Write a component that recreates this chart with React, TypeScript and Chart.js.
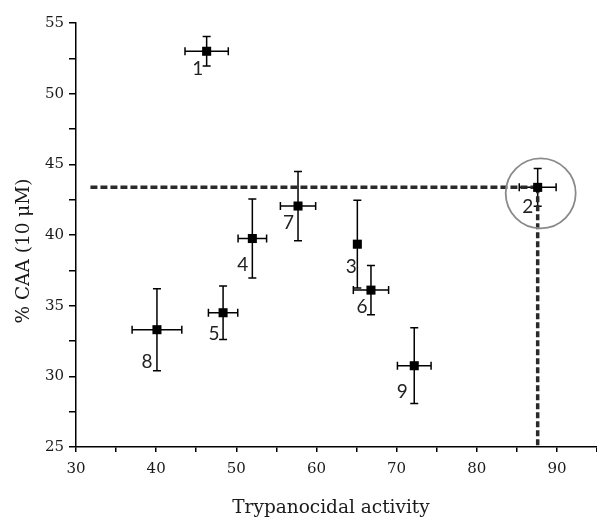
import React, { useEffect, useRef } from "react";
import { Chart, registerables } from "chart.js";

Chart.register(...registerables);

// ---- data ----
const compoundLabels = ["1", "2", "3", "4", "5", "6", "7", "8", "9"];
const trypanocidal = [46.3, 87.6, 65.1, 52.0, 48.35, 66.8, 57.7, 40.1, 72.2];
const trypanocidalErr = [2.7, 2.3, 0.3, 1.78, 1.83, 2.2, 2.2, 3.1, 2.1];
const caa = [53.0, 43.37, 39.35, 39.75, 34.5, 36.1, 42.05, 33.3, 30.75];
const caaErr = [1.05, 1.33, 3.1, 2.8, 1.9, 1.75, 2.45, 2.9, 2.68];
const highlightIndex = 1; // compound 2 (circled)
const guideStartX = 31.8;
const xTickLabels = ["30", "40", "50", "60", "70", "80", "90"];
const yTickLabels = ["25", "30", "35", "40", "45", "50", "55"];
const xTitle = "Trypanocidal activity";
const yTitle = "% CAA (10 μM)";

// label offsets in px relative to each point (layout only)
const labelOffsets: [number, number][] = [
  [-9, 18], [-10, 20], [-6, 23], [-9.5, 26], [-9, 21], [-9, 17], [-9.5, 17], [-10, 32], [-12, 26],
];

const TITLE_FONT = "18.5px 'DejaVu Serif', serif";

const overlayPlugin = {
  id: "overlay",
  beforeDatasetsDraw(chart: any) {
    const { ctx, scales } = chart;
    const xs = scales.x;
    const ys = scales.y;
    ctx.save();
    ctx.strokeStyle = "#000";
    ctx.lineWidth = 1.5;
    const cap = 4;
    for (let i = 0; i < trypanocidal.length; i++) {
      const px = xs.getPixelForValue(trypanocidal[i]);
      const py = ys.getPixelForValue(caa[i]);
      const xl = xs.getPixelForValue(trypanocidal[i] - trypanocidalErr[i]);
      const xr = xs.getPixelForValue(trypanocidal[i] + trypanocidalErr[i]);
      const yt = ys.getPixelForValue(caa[i] + caaErr[i]);
      const yb = ys.getPixelForValue(caa[i] - caaErr[i]);
      ctx.beginPath();
      ctx.moveTo(xl, py);
      ctx.lineTo(xr, py);
      ctx.moveTo(xl, py - cap);
      ctx.lineTo(xl, py + cap);
      ctx.moveTo(xr, py - cap);
      ctx.lineTo(xr, py + cap);
      ctx.moveTo(px, yt);
      ctx.lineTo(px, yb);
      ctx.moveTo(px - cap, yt);
      ctx.lineTo(px + cap, yt);
      ctx.moveTo(px - cap, yb);
      ctx.lineTo(px + cap, yb);
      ctx.stroke();
    }
    ctx.restore();
  },
  afterDatasetsDraw(chart: any) {
    const { ctx, scales } = chart;
    const xs = scales.x;
    const ys = scales.y;
    ctx.save();
    // circle around highlighted compound
    const hx = xs.getPixelForValue(trypanocidal[highlightIndex]);
    const hy = ys.getPixelForValue(caa[highlightIndex]);
    ctx.strokeStyle = "#8a8a8a";
    ctx.lineWidth = 1.8;
    ctx.beginPath();
    ctx.arc(hx + 3, hy + 6, 35, 0, Math.PI * 2);
    ctx.stroke();
    // labels
    ctx.fillStyle = "#222";
    ctx.font = "19px Lato, 'Open Sans', sans-serif";
    ctx.textAlign = "center";
    ctx.textBaseline = "middle";
    for (let i = 0; i < compoundLabels.length; i++) {
      const px = xs.getPixelForValue(trypanocidal[i]);
      const py = ys.getPixelForValue(caa[i]);
      ctx.fillText(compoundLabels[i], px + labelOffsets[i][0], py + labelOffsets[i][1]);
    }
    ctx.restore();
  },
  afterDraw(chart: any) {
    const { ctx } = chart;
    ctx.save();
    ctx.fillStyle = "#1a1a1a";
    ctx.font = TITLE_FONT;
    ctx.textAlign = "center";
    ctx.textBaseline = "middle";
    ctx.fillText(xTitle, 331, 508);
    ctx.translate(24, 251);
    ctx.rotate(-Math.PI / 2);
    ctx.fillText(yTitle, 0, 0);
    ctx.restore();
  },
};

export default function App() {
  const ref = useRef<HTMLCanvasElement>(null);
  useEffect(() => {
    if (!ref.current) return;
    const points = trypanocidal.map((v, i) => ({ x: v, y: caa[i] }));
    const gx = trypanocidal[highlightIndex];
    const gy = caa[highlightIndex];
    const tickFont = { family: "'DejaVu Serif', serif", size: 15 };
    const chart = new Chart(ref.current, {
      type: "scatter",
      data: {
        datasets: [
          {
            data: points,
            pointStyle: "rect",
            pointRadius: 6.4,
            pointHoverRadius: 6.4,
            backgroundColor: "#000",
            borderColor: "#000",
            borderWidth: 0,
            order: 0,
          },
          {
            data: [
              { x: guideStartX, y: gy },
              { x: gx, y: gy },
            ],
            showLine: true,
            pointRadius: 0,
            borderColor: "#2a2a2a",
            borderWidth: 3.5,
            borderDash: [7, 3],
            order: 1,
          },
          {
            data: [
              { x: gx, y: gy },
              { x: gx, y: 25 },
            ],
            showLine: true,
            pointRadius: 0,
            borderColor: "#2a2a2a",
            borderWidth: 3.5,
            borderDash: [6, 3],
            order: 1,
          },
        ],
      },
      options: {
        responsive: false,
        animation: false,
        layout: { autoPadding: false, padding: { top: 23, right: 0, bottom: 0, left: 0 } },
        plugins: { legend: { display: false }, tooltip: { enabled: false } },
        scales: {
          x: {
            type: "linear",
            min: 30,
            max: 95,
            afterFit: (s: any) => {
              s.height = 72;
              s.paddingLeft = 0;
              s.paddingRight = 0;
            },
            ticks: {
              stepSize: 5,
              autoSkip: false,
              maxRotation: 0,
              padding: 8,
              color: "#1a1a1a",
              font: tickFont,
              callback: (v: any) => (xTickLabels.includes(String(v)) ? String(v) : ""),
            },
            grid: {
              display: true,
              drawOnChartArea: false,
              drawTicks: true,
              tickLength: 5,
              color: "#000",
              lineWidth: 1.5,
            },
            border: { display: true, color: "#000", width: 1.5 },
            title: { display: false },
          },
          y: {
            type: "linear",
            min: 25,
            max: 55,
            afterFit: (s: any) => {
              s.width = 76;
              s.paddingTop = 0;
              s.paddingBottom = 0;
            },
            ticks: {
              stepSize: 2.5,
              autoSkip: false,
              padding: 5,
              color: "#1a1a1a",
              font: tickFont,
              callback: (v: any) => (yTickLabels.includes(String(v)) ? String(v) : ""),
            },
            grid: {
              display: true,
              drawOnChartArea: false,
              drawTicks: true,
              tickLength: 7,
              color: "#000",
              lineWidth: 1.5,
            },
            border: { display: true, color: "#000", width: 1.5 },
            title: { display: false },
          },
        },
      },
      plugins: [overlayPlugin],
    } as any);
    return () => chart.destroy();
  }, []);
  return (
    <div style={{ position: "fixed", left: 0, top: 0, width: 597, height: 519, background: "#fff" }}>
      <canvas ref={ref} width={597} height={519} />
    </div>
  );
}
